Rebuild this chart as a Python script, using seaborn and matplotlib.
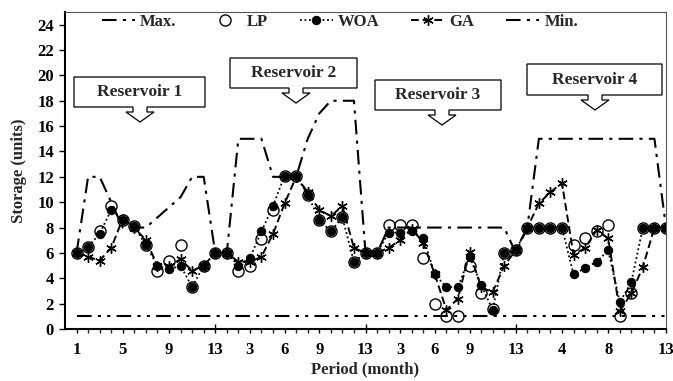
import seaborn as sns
import matplotlib.pyplot as plt
from matplotlib.patches import Polygon

# 4 reservoirs x 13 months, plotted one after another
periods = list(range(1, 53))

max_storage = [6, 12, 12, 10, 8, 8, 8, 8.8, 9.6, 10.4, 12, 12, 6,
               6, 15, 15, 15, 12, 12, 12, 15, 17, 18, 18, 18, 6,
               6, 8, 8, 8, 8, 8, 8, 8, 8, 8, 8, 8, 6,
               8, 15, 15, 15, 15, 15, 15, 15, 15, 15, 15, 15, 8]
lp = [6, 6.5, 7.7, 9.7, 8.6, 8.1, 6.6, 4.6, 5.4, 6.6, 3.3, 5.0, 6.0,
      6, 4.6, 5.0, 7.1, 9.4, 12.1, 12.1, 10.6, 8.6, 7.7, 8.8, 5.3, 6.0,
      6.0, 8.2, 8.2, 8.2, 5.6, 2.0, 1.0, 1.0, 5.0, 2.8, 1.6, 6.0, 6.2,
      8, 8, 8, 8, 6.6, 7.15, 7.7, 8.2, 1.0, 2.8, 8, 8, 8]
woa = [6, 6.5, 7.5, 9.4, 8.6, 8.1, 6.6, 5.0, 4.7, 5.0, 3.3, 5.0, 6.0,
       6, 5.0, 5.6, 7.7, 9.7, 12.1, 12.1, 10.6, 8.6, 7.7, 8.8, 5.3, 6.0,
       6.0, 7.6, 7.6, 7.7, 7.2, 4.3, 3.3, 3.3, 5.7, 3.5, 1.5, 6.0, 6.2,
       8, 8, 8, 8, 4.3, 4.8, 5.3, 6.2, 2.1, 3.7, 8, 8, 8]
ga = [6, 5.7, 5.4, 6.4, 8.7, 8.0, 7.0, 5.0, 5.0, 5.5, 4.6, 5.0, 6.0,
      6, 5.3, 5.3, 5.7, 7.5, 9.9, 12.0, 10.8, 9.4, 8.9, 9.7, 6.4, 6.0,
      6.0, 6.4, 7.0, 7.9, 6.8, 4.3, 1.5, 2.4, 6.1, 3.3, 2.9, 5.0, 6.2,
      8, 9.9, 10.8, 11.5, 5.85, 6.4, 7.8, 7.15, 1.4, 2.8, 4.9, 8, 8]
min_storage = [1, 1, 1, 1, 1, 1, 1, 1, 1, 1, 1, 1, 1,
               1, 1, 1, 1, 1, 1, 1, 1, 1, 1, 1, 1, 1,
               1, 1, 1, 1, 1, 1, 1, 1, 1, 1, 1, 1, 1,
               1, 1, 1, 1, 1, 1, 1, 1, 1, 1, 1, 1, 1]

tick_pos = [1, 5, 9, 13, 16, 19, 22, 26, 29, 32, 35, 39, 43, 47, 52]
tick_lab = ['1', '5', '9', '13', '3', '6', '9', '13', '3', '6', '9', '13', '4', '8', '13']
res_bounds = [13, 26, 39]
res_names = ['Reservoir 1', 'Reservoir 2', 'Reservoir 3', 'Reservoir 4']

sns.set_theme(style='ticks')
plt.rcParams['font.family'] = ['Liberation Serif', 'DejaVu Serif']
plt.rcParams['font.weight'] = 'bold'

fig, ax = plt.subplots(figsize=(6.73, 3.81), dpi=100)
L, R, T, B = 65, 666, 12, 329  # plot area in pixels
fig.subplots_adjust(left=L / 673, right=R / 673, top=1 - T / 381, bottom=1 - B / 381)

sns.lineplot(x=periods, y=max_storage, ax=ax, color='black', lw=1.5,
             linestyle=(0, (7, 3, 1.5, 3)), label='Max.')
sns.lineplot(x=periods, y=lp, ax=ax, color='black', linestyle='none', marker='o',
             markersize=8, markerfacecolor='none', markeredgecolor='black',
             markeredgewidth=1, label='LP')
sns.lineplot(x=periods, y=woa, ax=ax, color='black', lw=1.3, linestyle=(0, (1, 1.5)),
             marker='o', markersize=6, markerfacecolor='black', markeredgecolor='black',
             label='WOA')
sns.lineplot(x=periods, y=ga, ax=ax, color='black', lw=1.4, linestyle=(0, (4, 2)),
             marker=(6, 2, 0), markersize=7.5, markeredgecolor='black',
             markeredgewidth=1, label='GA')
sns.lineplot(x=periods, y=min_storage, ax=ax, color='black', lw=1.5,
             linestyle=(0, (7, 3, 1.5, 3, 1.5, 3)), label='Min.')

ax.set_xlim(0, 52)
ax.set_ylim(0, 25)
ax.set_yticks(range(0, 25, 2))
ax.set_xticks(tick_pos)
ax.set_xticklabels(tick_lab)
ax.set_xticks(periods, minor=True)
ax.tick_params(axis='both', labelsize=12, colors='black', direction='out', width=1)
ax.tick_params(axis='x', which='both', length=3, pad=6)
ax.tick_params(axis='y', length=4, pad=4)
ax.vlines(res_bounds, 0, 0.4, colors='black', lw=1)

for s in ['left', 'bottom']:
    ax.spines[s].set_linewidth(1.5)
    ax.spines[s].set_color('black')
for s in ['top', 'right']:
    ax.spines[s].set_linewidth(0.8)
    ax.spines[s].set_color('#555555')

ax.set_xlabel('Period (month)', fontsize=12, fontweight='bold', labelpad=3)
ax.set_ylabel('Storage (units)', fontsize=12, fontweight='bold', labelpad=7)

ax.legend(ncol=5, frameon=False, loc='center', bbox_to_anchor=(0.4576, 0.968),
          prop={'weight': 'bold', 'size': 12}, handlelength=2.0,
          columnspacing=1.9, handletextpad=0.3)


def to_ax(px, py):
    return (px - L) / (R - L), (B - py) / (B - T)


# callout boxes: left, right, top, bottom, arrow x, arrow tip (pixels)
callouts = [(74, 205, 77, 107, 140, 122),
            (230, 357, 58, 88, 296, 103),
            (375, 501, 80, 110, 442, 125),
            (527, 662, 64, 95, 595, 110)]
for name, (x0, x1, y0, y1, cx, tip) in zip(res_names, callouts):
    neck = y1 + 5
    pts = [(x0, y0), (x1, y0), (x1, y1), (cx + 7, y1), (cx + 7, neck), (cx + 14, neck),
           (cx, tip), (cx - 14, neck), (cx - 7, neck), (cx - 7, y1), (x0, y1)]
    poly = Polygon([to_ax(*p) for p in pts], closed=True, transform=ax.transAxes,
                   facecolor='white', edgecolor='black', lw=0.9, zorder=5, clip_on=False)
    ax.add_patch(poly)
    tx, ty = to_ax((x0 + x1) / 2, (y0 + y1) / 2)
    ax.text(tx, ty, name, transform=ax.transAxes, ha='center', va='center',
            fontsize=12.5, fontweight='bold', zorder=6)

plt.savefig('out.png', dpi=100)
